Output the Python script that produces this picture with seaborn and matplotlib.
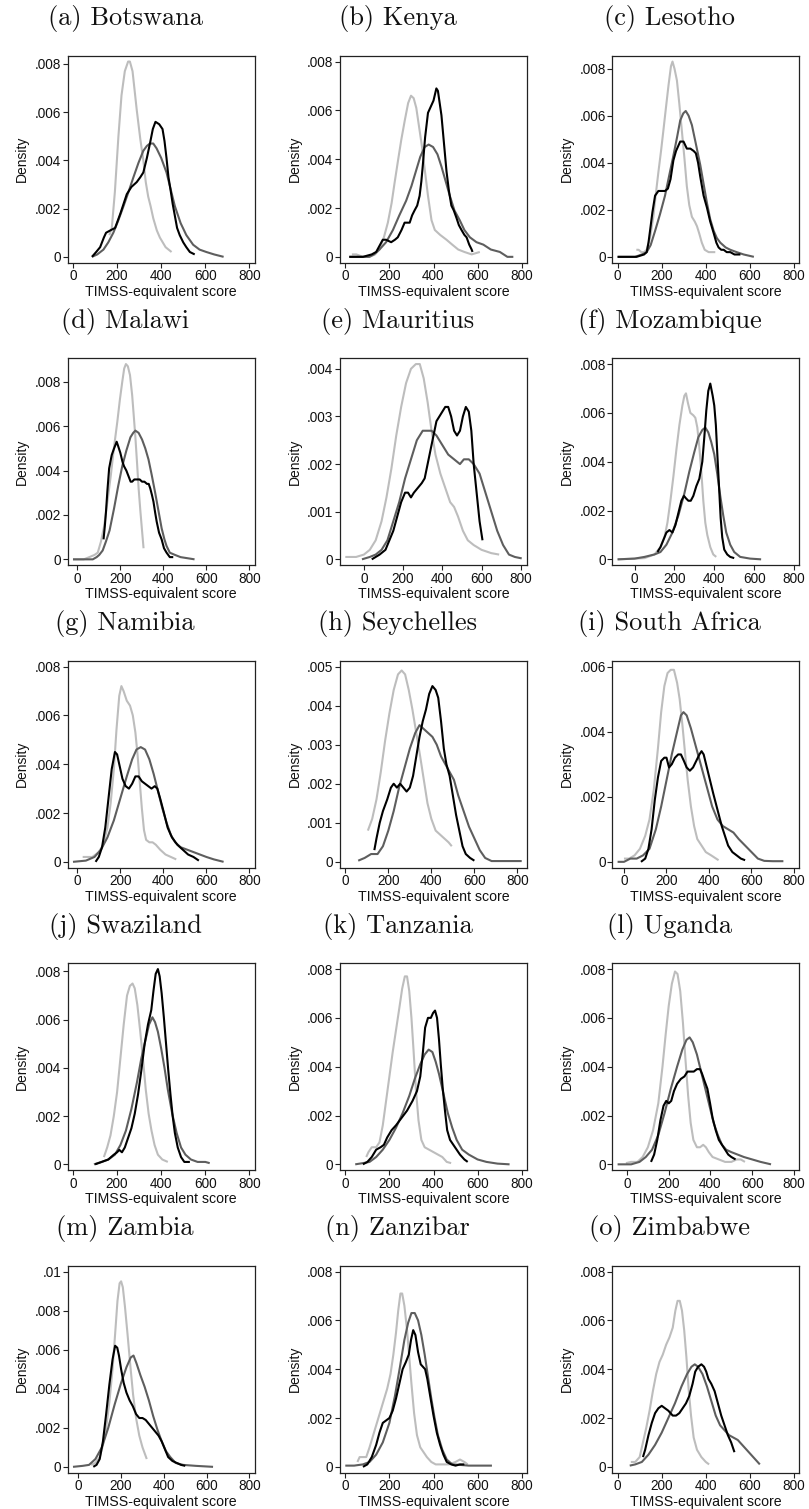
import matplotlib
matplotlib.use("Agg")
import matplotlib.pyplot as plt
import seaborn as sns

sns.set_style("ticks")
plt.rcParams["font.family"] = ["Liberation Sans", "DejaVu Sans"]

# ---------------- data ----------------
titles = ["(a) Botswana", "(b) Kenya", "(c) Lesotho", "(d) Malawi", "(e) Mauritius",
          "(f) Mozambique", "(g) Namibia", "(h) Seychelles", "(i) South Africa",
          "(j) Swaziland", "(k) Tanzania", "(l) Uganda", "(m) Zambia", "(n) Zanzibar",
          "(o) Zimbabwe"]
x_ticks = [0, 200, 400, 600, 800]
y_ticks_008 = [0, .002, .004, .006, .008]
y_ticks_e = [0, .001, .002, .003, .004]
y_ticks_h = [0, .001, .002, .003, .004, .005]
y_ticks_i = [0, .002, .004, .006]
y_ticks_m = [0, .002, .004, .006, .008, .01]

# (a) Botswana
bw_light_x = [165, 176, 190, 206, 220, 235, 250, 258, 270, 289, 305, 319, 330, 341, 352, 364, 380, 394, 420, 447]
bw_light_y = [.0009, .0012, .0027, .0050, .0067, .0077, .0081, .0081, .0077, .0061, .0049, .0040, .0031, .0025, .0021, .0016, .0011, .0008, .0004, .0002]
bw_dark_x = [86, 110, 138, 160, 183, 205, 229, 252, 274, 297, 319, 335, 349, 364, 379, 400, 424, 443, 462, 488, 514, 545, 574, 605, 640, 683]
bw_dark_y = [0, .0001, .0003, .0006, .0010, .0015, .0021, .0027, .0033, .0039, .0044, .0046, .0047, .0047, .0045, .0041, .0035, .0028, .0021, .0014, .0009, .0005, .0003, .0002, .0001, 0]
bw_black_x = [86, 105, 123, 140, 150, 170, 191, 215, 244, 265, 289, 305, 319, 335, 349, 362, 374, 391, 406, 415, 424, 433, 442, 452, 462, 472, 484, 500, 514, 530, 552]
bw_black_y = [0, .0002, .0004, .0008, .0010, .0011, .0012, .0018, .0026, .0029, .0031, .0033, .0035, .0041, .0047, .0053, .0056, .0055, .0053, .0048, .0041, .0033, .0028, .0022, .0017, .0012, .0009, .0006, .0004, .0002, .0001]

# (b) Kenya
ke_light_x = [30, 50, 80, 110, 135, 155, 175, 193, 210, 223, 240, 254, 270, 285, 298, 310, 322, 335, 348, 360, 375, 391, 406, 430, 459, 485, 512, 540, 573, 610]
ke_light_y = [.0001, .0001, 0, 0, .0001, .0003, .0008, .0014, .0022, .0030, .0040, .0048, .0056, .0063, .0066, .0065, .0061, .0053, .0045, .0036, .0025, .0015, .0011, .0009, .0007, .0005, .0003, .0002, .0001, .0002]
ke_dark_x = [18, 60, 109, 130, 155, 185, 216, 245, 276, 300, 320, 340, 360, 378, 398, 418, 436, 455, 474, 495, 519, 540, 565, 595, 626, 660, 701, 735, 762]
ke_dark_y = [0, 0, 0, .0001, .0003, .0006, .0011, .0017, .0023, .0029, .0035, .0041, .0045, .0046, .0045, .0042, .0037, .0031, .0025, .0019, .0015, .0011, .0008, .0006, .0005, .0003, .0002, 0, 0]
ke_black_x = [18, 80, 120, 140, 158, 170, 185, 208, 225, 238, 255, 269, 280, 292, 303, 314, 326, 337, 345, 352, 362, 375, 390, 400, 413, 420, 428, 436, 443, 451, 459, 470, 481, 492, 504, 515, 527, 540, 550, 562, 573, 577]
ke_black_y = [0, 0, .0001, .0002, .0005, .0007, .0007, .0006, .0007, .0008, .0011, .0014, .0014, .0014, .0017, .0019, .0021, .0025, .0031, .0038, .0049, .0059, .0062, .0064, .0069, .0068, .0063, .0058, .0051, .0043, .0035, .0027, .0021, .0019, .0016, .0013, .0011, .0009, .0008, .0005, .0003, .0002]

# (c) Lesotho
ls_light_x = [85, 95, 108, 120, 132, 147, 162, 175, 185, 197, 208, 220, 231, 242, 249, 258, 269, 280, 291, 303, 314, 325, 337, 350, 360, 370, 382, 395, 413, 443]
ls_light_y = [.0003, .0003, .0002, .0002, .0003, .0008, .0017, .0028, .0036, .0045, .0054, .0064, .0073, .0081, .0083, .0080, .0075, .0065, .0054, .0042, .0030, .0022, .0017, .0015, .0013, .0010, .0006, .0003, .0002, .0002]
ls_dark_x = [0, 79, 110, 132, 150, 170, 192, 215, 235, 253, 270, 284, 298, 309, 322, 337, 355, 375, 390, 405, 420, 436, 450, 466, 490, 511, 540, 572, 618]
ls_dark_y = [0, 0, .0001, .0002, .0005, .0011, .0018, .0026, .0035, .0043, .0051, .0058, .0061, .0062, .0060, .0056, .0048, .0039, .0031, .0023, .0016, .0011, .0008, .0006, .0004, .0003, .0002, .0001, 0]
ls_black_x = [0, 86, 120, 132, 140, 147, 158, 170, 185, 200, 215, 228, 240, 253, 265, 284, 299, 314, 330, 345, 355, 365, 375, 390, 405, 420, 436, 448, 458, 470, 481, 495, 511, 530, 557]
ls_black_y = [0, 0, .0001, .0002, .0006, .0011, .0019, .0026, .0028, .0028, .0028, .0029, .0033, .0041, .0045, .0049, .0049, .0046, .0046, .0045, .0044, .0040, .0034, .0026, .0021, .0015, .0010, .0006, .0004, .0003, .0003, .0002, .0002, .0001, .0001]

# (d) Malawi
mw_light_x = [-20, 30, 56, 80, 95, 110, 125, 140, 156, 170, 186, 198, 209, 218, 226, 235, 245, 255, 263, 270, 278, 285, 293, 300, 308]
mw_light_y = [0, 0, .0001, .0002, .0003, .0008, .0015, .0026, .0038, .0050, .0062, .0072, .0080, .0086, .0088, .0087, .0083, .0074, .0064, .0055, .0043, .0032, .0022, .0014, .0005]
mw_dark_x = [-20, 40, 72, 90, 102, 118, 133, 150, 171, 190, 209, 228, 247, 260, 270, 285, 301, 316, 331, 346, 362, 377, 392, 405, 415, 430, 454, 480, 545]
mw_dark_y = [0, 0, 0, .0001, .0002, .0004, .0008, .0013, .0023, .0033, .0042, .0049, .0055, .0057, .0058, .0057, .0054, .0050, .0045, .0038, .0030, .0022, .0014, .0009, .0006, .0003, .0002, .0001, 0]
mw_black_x = [122, 128, 133, 140, 148, 160, 171, 183, 190, 200, 210, 217, 228, 240, 248, 255, 265, 278, 290, 301, 312, 324, 332, 339, 347, 354, 362, 369, 380, 392, 403, 415, 430, 446]
mw_black_y = [.0009, .0015, .0021, .0031, .0041, .0047, .0050, .0053, .0051, .0048, .0044, .0042, .0040, .0037, .0035, .0035, .0036, .0036, .0036, .0035, .0035, .0034, .0034, .0032, .0029, .0026, .0021, .0017, .0012, .0009, .0005, .0003, .0001, .0001]

# (e) Mauritius
mu_light_x = [-95, -40, 0, 30, 60, 90, 115, 140, 165, 190, 215, 240, 265, 285, 305, 325, 345, 365, 390, 415, 440, 460, 480, 505, 530, 560, 600, 650, 690]
mu_light_y = [.00005, .00005, .0001, .0002, .0004, .0008, .0013, .0019, .0026, .0032, .0037, .0040, .0041, .0041, .0038, .0033, .0027, .0022, .0018, .0015, .0012, .0011, .0009, .0006, .0004, .0003, .0002, .00013, .0001]
mu_dark_x = [-10, 30, 60, 90, 120, 150, 180, 210, 240, 270, 300, 330, 345, 370, 400, 430, 460, 490, 510, 535, 560, 590, 620, 650, 680, 710, 740, 770, 805]
mu_dark_y = [0, .00005, .0001, .0002, .0004, .0008, .0012, .0017, .0021, .0025, .0027, .0027, .0027, .0026, .0024, .0022, .0021, .0020, .0021, .0021, .0020, .0018, .0014, .0010, .0006, .0003, .0001, .00005, .00002]
mu_black_x = [40, 80, 110, 130, 150, 170, 190, 210, 225, 240, 255, 275, 295, 310, 325, 340, 355, 370, 385, 400, 415, 430, 445, 460, 475, 490, 505, 520, 535, 548, 560, 575, 590, 605]
mu_black_y = [0, .0001, .0002, .0004, .0006, .0009, .0012, .0014, .0014, .0013, .0014, .0015, .0016, .0017, .0020, .0023, .0026, .0029, .0030, .0031, .0032, .0032, .0030, .0027, .0026, .0027, .0030, .0032, .0031, .0027, .0020, .0014, .0008, .0004]

# (f) Mozambique
mz_light_x = [-85, 0, 50, 100, 130, 150, 165, 180, 195, 210, 225, 240, 250, 258, 268, 280, 295, 305, 315, 325, 335, 345, 355, 365, 380, 395, 410]
mz_light_y = [0, .00003, .00005, .0002, .0005, .0009, .0015, .0024, .0034, .0045, .0055, .0063, .0067, .0068, .0064, .0060, .0059, .0058, .0054, .0046, .0036, .0024, .0015, .0010, .0005, .0002, .0001]
mz_dark_x = [-85, 0, 50, 100, 130, 160, 190, 220, 250, 275, 300, 320, 340, 355, 370, 385, 400, 415, 430, 445, 460, 480, 500, 530, 580, 635]
mz_dark_y = [0, .00003, .0001, .0002, .0003, .0006, .0011, .0018, .0027, .0036, .0044, .0050, .0053, .0054, .0052, .0048, .0043, .0035, .0026, .0018, .0011, .0006, .0003, .0001, .00003, 0]
mz_black_x = [115, 130, 145, 160, 175, 190, 205, 220, 235, 248, 258, 270, 282, 295, 310, 325, 340, 350, 360, 370, 380, 392, 400, 408, 416, 425, 432, 440, 450, 465, 480, 500]
mz_black_y = [.0003, .0005, .0008, .0011, .0012, .0011, .0014, .0019, .0024, .0026, .0025, .0024, .0024, .0026, .0030, .0033, .0040, .0050, .0061, .0069, .0072, .0067, .0063, .0055, .0042, .0028, .0017, .0009, .0004, .0002, .0001, .00005]

# (g) Namibia
nm_light_x = [25, 45, 70, 100, 120, 140, 155, 170, 182, 195, 205, 215, 230, 245, 258, 270, 280, 290, 300, 310, 320, 335, 350, 365, 385, 410, 435, 460]
nm_light_y = [.0002, .0002, .0002, .0004, .0007, .0014, .0024, .0038, .0054, .0068, .0072, .0070, .0066, .0064, .0060, .0053, .0044, .0033, .0022, .0013, .0009, .0008, .0008, .0007, .0005, .0003, .0002, .0001]
nm_dark_x = [-20, 40, 80, 110, 140, 170, 200, 230, 255, 275, 295, 315, 335, 355, 375, 395, 415, 435, 455, 480, 510, 540, 570, 600, 635, 680]
nm_dark_y = [0, .00005, .0002, .0005, .0010, .0017, .0026, .0035, .0042, .0046, .0047, .0046, .0042, .0036, .0029, .0022, .0016, .0011, .0008, .0006, .0005, .0004, .0003, .0002, .0001, 0]
nm_black_x = [85, 100, 115, 130, 145, 160, 175, 185, 195, 210, 225, 240, 255, 270, 285, 300, 315, 330, 345, 360, 372, 385, 400, 420, 440, 465, 490, 515, 540, 565]
nm_black_y = [0, .0002, .0006, .0014, .0026, .0038, .0045, .0044, .0040, .0034, .0031, .0030, .0032, .0035, .0035, .0033, .0032, .0031, .0030, .0031, .0030, .0026, .0021, .0014, .0010, .0007, .0005, .0003, .0002, .00005]

# (h) Seychelles
sc_light_x = [105, 125, 145, 165, 185, 205, 225, 245, 262, 278, 295, 312, 330, 348, 365, 382, 400, 420, 440, 460, 480, 495]
sc_light_y = [.0008, .0011, .0016, .0023, .0031, .0038, .0044, .0048, .0049, .0048, .0044, .0039, .0033, .0027, .0021, .0015, .0011, .0008, .0007, .0006, .0005, .0004]
sc_dark_x = [60, 90, 120, 150, 175, 200, 225, 250, 275, 300, 325, 345, 365, 385, 405, 425, 445, 465, 485, 505, 525, 550, 575, 600, 625, 650, 680, 720, 770, 820]
sc_dark_y = [.00003, .0001, .0002, .0002, .0004, .0008, .0013, .0019, .0024, .0029, .0033, .0035, .0034, .0033, .0032, .0030, .0027, .0025, .0023, .0021, .0017, .0013, .0009, .0006, .0003, .0001, .00002, .00002, .00002, .00002]
sc_black_x = [135, 145, 160, 175, 195, 212, 225, 240, 255, 270, 285, 300, 315, 330, 345, 360, 375, 390, 405, 420, 432, 445, 458, 470, 485, 500, 515, 530, 545, 560, 580, 600]
sc_black_y = [.0003, .0006, .0010, .0013, .0016, .0019, .0020, .0019, .0020, .0019, .0018, .0019, .0022, .0027, .0032, .0036, .0039, .0043, .0045, .0044, .0042, .0036, .0029, .0025, .0022, .0017, .0012, .0008, .0004, .0002, .0001, .00003]

# (i) South Africa
sa_light_x = [0, 25, 50, 75, 100, 120, 140, 160, 175, 190, 205, 220, 235, 250, 262, 275, 288, 300, 315, 330, 345, 365, 385, 410, 445]
sa_light_y = [.0001, .0001, .0002, .0004, .0008, .0013, .0022, .0035, .0046, .0054, .0058, .0059, .0059, .0055, .0050, .0042, .0033, .0025, .0017, .0011, .0007, .0005, .0003, .0002, .00005]
sa_dark_x = [-30, 0, 30, 60, 90, 120, 150, 175, 200, 225, 250, 268, 280, 295, 315, 340, 365, 390, 415, 440, 465, 490, 515, 540, 570, 600, 630, 660, 700, 750]
sa_dark_y = [0, 0, .0001, .0001, .0002, .0004, .0010, .0017, .0025, .0033, .0040, .0045, .0046, .0045, .0041, .0035, .0029, .0023, .0017, .0013, .0011, .0010, .0009, .0007, .0005, .0003, .0001, .00003, .00002, .00002]
sa_black_x = [80, 100, 115, 130, 145, 160, 175, 190, 200, 212, 225, 240, 255, 268, 282, 295, 310, 325, 340, 355, 365, 375, 390, 405, 420, 440, 460, 475, 490, 510, 530, 550, 570]
sa_black_y = [0, .0001, .0004, .0010, .0019, .0026, .0031, .0032, .0032, .0029, .0030, .0032, .0033, .0033, .0031, .0029, .0028, .0029, .0031, .0033, .0034, .0033, .0029, .0025, .0021, .0016, .0011, .0008, .0005, .0003, .0002, .0001, .00005]

# (j) Swaziland
sw_light_x = [140, 155, 170, 185, 200, 215, 230, 245, 258, 270, 280, 292, 305, 318, 330, 343, 356, 370, 385, 405, 430]
sw_light_y = [.0003, .0007, .0012, .0020, .0030, .0044, .0058, .0070, .0074, .0075, .0073, .0066, .0055, .0043, .0031, .0021, .0014, .0008, .0004, .0002, .0001]
sw_dark_x = [95, 130, 160, 190, 215, 240, 265, 290, 310, 330, 345, 360, 372, 385, 400, 415, 430, 450, 470, 490, 510, 535, 565, 600, 620]
sw_dark_y = [0, .0001, .0002, .0004, .0008, .0014, .0023, .0034, .0044, .0052, .0058, .0061, .0059, .0055, .0048, .0040, .0031, .0021, .0013, .0007, .0004, .0002, .0001, .0001, .00005]
sw_black_x = [100, 130, 160, 185, 200, 210, 222, 235, 250, 265, 280, 295, 310, 325, 340, 355, 365, 375, 385, 393, 402, 412, 422, 432, 442, 452, 462, 475, 490, 505, 530]
sw_black_y = [0, .0001, .0002, .0004, .0005, .0006, .0005, .0007, .0011, .0015, .0021, .0029, .0039, .0050, .0058, .0064, .0072, .0079, .0081, .0078, .0071, .0061, .0050, .0039, .0029, .0020, .0013, .0007, .0003, .0001, .0001]

# (k) Tanzania
tz_light_x = [95, 105, 120, 140, 155, 170, 185, 200, 215, 230, 245, 258, 270, 280, 290, 300, 310, 320, 332, 345, 360, 380, 400, 420, 440, 460, 480]
tz_light_y = [.0003, .0005, .0007, .0007, .0009, .0016, .0026, .0036, .0046, .0055, .0064, .0072, .0077, .0077, .0071, .0060, .0046, .0031, .0018, .0010, .0007, .0006, .0005, .0004, .0003, .0001, .00005]
tz_dark_x = [45, 80, 110, 140, 170, 200, 230, 260, 290, 315, 340, 360, 378, 395, 410, 425, 445, 465, 485, 505, 530, 560, 600, 640, 690, 745]
tz_dark_y = [0, .00005, .0001, .0003, .0006, .0010, .0015, .0021, .0028, .0035, .0041, .0045, .0047, .0046, .0042, .0037, .0029, .0021, .0015, .0010, .0006, .0004, .0002, .0001, .00003, 0]
tz_black_x = [80, 100, 120, 140, 160, 175, 190, 210, 230, 255, 280, 305, 325, 340, 352, 362, 375, 388, 398, 407, 416, 425, 433, 442, 452, 462, 475, 490, 505, 520, 540, 555]
tz_black_y = [0, .0001, .0003, .0006, .0007, .0008, .0011, .0014, .0016, .0019, .0022, .0026, .0030, .0036, .0046, .0056, .0060, .0060, .0062, .0063, .0060, .0051, .0041, .0031, .0022, .0014, .0010, .0008, .0006, .0004, .0002, .0001]

# (l) Uganda
ug_light_x = [-5, 20, 50, 75, 100, 125, 150, 170, 185, 200, 215, 230, 242, 255, 268, 280, 293, 305, 318, 335, 350, 365, 378, 392, 410, 440, 470, 500, 525, 545, 565]
ug_light_y = [.00005, .0001, .0001, .0003, .0007, .0014, .0025, .0040, .0053, .0065, .0074, .0079, .0078, .0071, .0058, .0043, .0028, .0017, .0010, .0007, .0007, .0008, .0007, .0005, .0003, .0002, .0001, .0001, .0002, .0002, .0001]
ug_dark_x = [-45, 20, 60, 90, 120, 150, 180, 210, 240, 265, 285, 300, 315, 335, 355, 375, 395, 415, 435, 455, 475, 500, 530, 560, 600, 640, 690]
ug_dark_y = [0, 0, .0001, .0003, .0006, .0012, .0021, .0031, .0040, .0047, .0051, .0052, .0050, .0045, .0038, .0031, .0024, .0017, .0012, .0008, .0006, .0005, .0004, .0003, .0002, .0001, 0]
ug_black_x = [115, 130, 145, 160, 175, 188, 200, 212, 225, 240, 258, 275, 290, 305, 320, 335, 350, 360, 372, 385, 398, 410, 425, 440, 455, 470, 485, 500, 520]
ug_black_y = [.0001, .0004, .0010, .0018, .0024, .0026, .0025, .0026, .0030, .0033, .0035, .0036, .0038, .0038, .0038, .0039, .0039, .0037, .0034, .0031, .0025, .0019, .0014, .0010, .0008, .0006, .0004, .0003, .0002]

# (m) Zambia
zm_light_x = [60, 80, 100, 115, 130, 145, 160, 172, 183, 193, 200, 208, 218, 230, 243, 256, 270, 285, 300, 320]
zm_light_y = [.0001, .0002, .0005, .0011, .0020, .0033, .0050, .0068, .0085, .0094, .0095, .0092, .0082, .0068, .0052, .0037, .0025, .0016, .0010, .0004]
zm_dark_x = [-25, 20, 50, 80, 110, 140, 170, 200, 225, 245, 258, 272, 290, 310, 330, 350, 370, 390, 410, 430, 455, 490, 550, 630]
zm_dark_y = [0, .00005, .0001, .0004, .0010, .0020, .0032, .0043, .0051, .0056, .0057, .0053, .0047, .0041, .0034, .0026, .0019, .0013, .0008, .0005, .0002, .0001, .00005, 0]
zm_black_x = [70, 85, 100, 115, 130, 145, 160, 172, 182, 190, 200, 212, 225, 240, 255, 270, 285, 300, 315, 330, 345, 360, 375, 390, 405, 420, 440, 460, 480, 500]
zm_black_y = [0, .0001, .0004, .0013, .0027, .0042, .0055, .0062, .0061, .0057, .0050, .0043, .0038, .0034, .0031, .0027, .0025, .0025, .0024, .0022, .0020, .0018, .0016, .0013, .0009, .0005, .0003, .0002, .0001, .00005]

# (n) Zanzibar
zn_light_x = [55, 65, 80, 95, 110, 130, 150, 170, 190, 205, 218, 230, 240, 250, 258, 268, 280, 290, 300, 312, 325, 340, 355, 370, 390, 410, 440, 470, 500, 520, 540, 555]
zn_light_y = [.0002, .0004, .0004, .0004, .0008, .0014, .0020, .0026, .0032, .0038, .0046, .0055, .0064, .0071, .0071, .0066, .0056, .0045, .0034, .0022, .0013, .0008, .0006, .0004, .0002, .0001, .0001, .0001, .0002, .0003, .0002, .0001]
zn_dark_x = [0, 40, 80, 110, 140, 170, 200, 225, 248, 268, 285, 300, 315, 330, 345, 360, 375, 390, 405, 420, 440, 460, 485, 520, 560, 610, 665]
zn_dark_y = [.00005, .00005, .0001, .0002, .0005, .0010, .0018, .0029, .0041, .0052, .0059, .0063, .0063, .0060, .0054, .0046, .0037, .0028, .0020, .0013, .0007, .0003, .0001, .00008, .00005, .00005, .00005]
zn_black_x = [80, 100, 120, 140, 155, 170, 185, 200, 215, 230, 245, 260, 275, 288, 298, 308, 318, 330, 342, 352, 362, 372, 385, 400, 415, 430, 445, 460, 480, 500, 520, 540]
zn_black_y = [0, .0001, .0004, .0009, .0014, .0018, .0019, .0020, .0023, .0028, .0034, .0040, .0043, .0046, .0052, .0056, .0054, .0047, .0042, .0041, .0040, .0036, .0029, .0021, .0014, .0009, .0005, .0002, .0001, .00005, .0001, .0001]

# (o) Zimbabwe
zw_light_x = [60, 80, 100, 115, 130, 145, 160, 175, 190, 205, 220, 235, 250, 262, 272, 282, 292, 302, 312, 322, 333, 345, 360, 380, 400, 415]
zw_light_y = [.0002, .0002, .0004, .0010, .0016, .0023, .0031, .0038, .0043, .0046, .0050, .0053, .0057, .0064, .0068, .0068, .0064, .0056, .0045, .0032, .0021, .0012, .0007, .0004, .0002, .0001]
zw_dark_x = [55, 80, 110, 140, 170, 200, 230, 260, 290, 315, 335, 350, 365, 385, 405, 425, 445, 465, 485, 505, 525, 545, 565, 585, 605, 625, 645]
zw_dark_y = [.00005, .0001, .0002, .0005, .0009, .0014, .0020, .0026, .0033, .0038, .0041, .0042, .0041, .0038, .0033, .0027, .0021, .0017, .0015, .0013, .0012, .0011, .0009, .0007, .0005, .0003, .0001]
zw_black_x = [115, 125, 140, 155, 170, 185, 200, 215, 230, 250, 265, 280, 295, 310, 325, 340, 352, 365, 380, 392, 402, 412, 425, 440, 455, 470, 485, 500, 515, 530]
zw_black_y = [.0004, .0007, .0013, .0018, .0022, .0024, .0025, .0024, .0023, .0021, .0021, .0022, .0024, .0026, .0029, .0034, .0039, .0041, .0042, .0041, .0039, .0036, .0034, .0031, .0026, .0021, .0017, .0013, .0010, .0006]

# ---------------- assemble panels ----------------
panels = [
    (bw_light_x, bw_light_y, bw_dark_x, bw_dark_y, bw_black_x, bw_black_y, y_ticks_008),
    (ke_light_x, ke_light_y, ke_dark_x, ke_dark_y, ke_black_x, ke_black_y, y_ticks_008),
    (ls_light_x, ls_light_y, ls_dark_x, ls_dark_y, ls_black_x, ls_black_y, y_ticks_008),
    (mw_light_x, mw_light_y, mw_dark_x, mw_dark_y, mw_black_x, mw_black_y, y_ticks_008),
    (mu_light_x, mu_light_y, mu_dark_x, mu_dark_y, mu_black_x, mu_black_y, y_ticks_e),
    (mz_light_x, mz_light_y, mz_dark_x, mz_dark_y, mz_black_x, mz_black_y, y_ticks_008),
    (nm_light_x, nm_light_y, nm_dark_x, nm_dark_y, nm_black_x, nm_black_y, y_ticks_008),
    (sc_light_x, sc_light_y, sc_dark_x, sc_dark_y, sc_black_x, sc_black_y, y_ticks_h),
    (sa_light_x, sa_light_y, sa_dark_x, sa_dark_y, sa_black_x, sa_black_y, y_ticks_i),
    (sw_light_x, sw_light_y, sw_dark_x, sw_dark_y, sw_black_x, sw_black_y, y_ticks_008),
    (tz_light_x, tz_light_y, tz_dark_x, tz_dark_y, tz_black_x, tz_black_y, y_ticks_008),
    (ug_light_x, ug_light_y, ug_dark_x, ug_dark_y, ug_black_x, ug_black_y, y_ticks_008),
    (zm_light_x, zm_light_y, zm_dark_x, zm_dark_y, zm_black_x, zm_black_y, y_ticks_m),
    (zn_light_x, zn_light_y, zn_dark_x, zn_dark_y, zn_black_x, zn_black_y, y_ticks_008),
    (zw_light_x, zw_light_y, zw_dark_x, zw_dark_y, zw_black_x, zw_black_y, y_ticks_008),
]

LIGHT, DARK, BLACK = "#bdbdbd", "#5e5e5e", "#000000"


def fmt(v):
    s = f"{v:.3f}".rstrip("0").rstrip(".")
    if s.startswith("0."):
        s = s[1:]
    return s


W, H = 809, 1509
fig = plt.figure(figsize=(W / 100, H / 100), dpi=100)
col_left = [67.7, 340.0, 612.3]
ax_w, ax_h = 187.0, 207.0
row_top = [55.7 + 302.5 * i for i in range(5)]

for i, (lx, ly, dx, dy, bx, by, yt) in enumerate(panels):
    r, c = divmod(i, 3)
    ax = fig.add_axes([col_left[c] / W, 1 - (row_top[r] + ax_h) / H, ax_w / W, ax_h / H])
    for xs, ys, col in ((lx, ly, LIGHT), (dx, dy, DARK), (bx, by, BLACK)):
        sns.lineplot(x=xs, y=ys, ax=ax, color=col, linewidth=1.5,
                     estimator=None, sort=False)
    for ln in ax.lines:
        ln.set_solid_joinstyle("round")
        ln.set_solid_capstyle("butt")
    allx = lx + dx + bx
    ally = ly + dy + by
    lo = min(0, min(allx)); hi = max(800, max(allx))
    pad = 0.03 * (hi - lo)
    ax.set_xlim(lo - pad, hi + pad)
    ytop = max(yt[-1], max(ally))
    ax.set_ylim(-0.03 * ytop, ytop * 1.03)
    ax.set_xticks(x_ticks)
    ax.set_xticklabels([str(t) for t in x_ticks])
    ax.set_yticks(yt)
    ax.set_yticklabels([fmt(t) for t in yt])
    ax.tick_params(axis="both", length=3.5, width=0.8, pad=1.2, labelsize=9.8,
                   color="#222222", labelcolor="#111111")
    ax.set_xlabel("TIMSS-equivalent score", fontsize=10.2, labelpad=1, color="#111111")
    ax.set_ylabel("Density", fontsize=10, labelpad=4, color="#111111")
    for s in ax.spines.values():
        s.set_color("#222222")
        s.set_linewidth(0.9)
    cx = col_left[c] + ax_w / 2 - 36
    cy = row_top[r] - 37
    fig.text(cx / W, 1 - cy / H, titles[i], ha="center", va="center",
             fontfamily="cmr10", fontsize=19, color="#111111")

fig.savefig("out.png", dpi=100)
